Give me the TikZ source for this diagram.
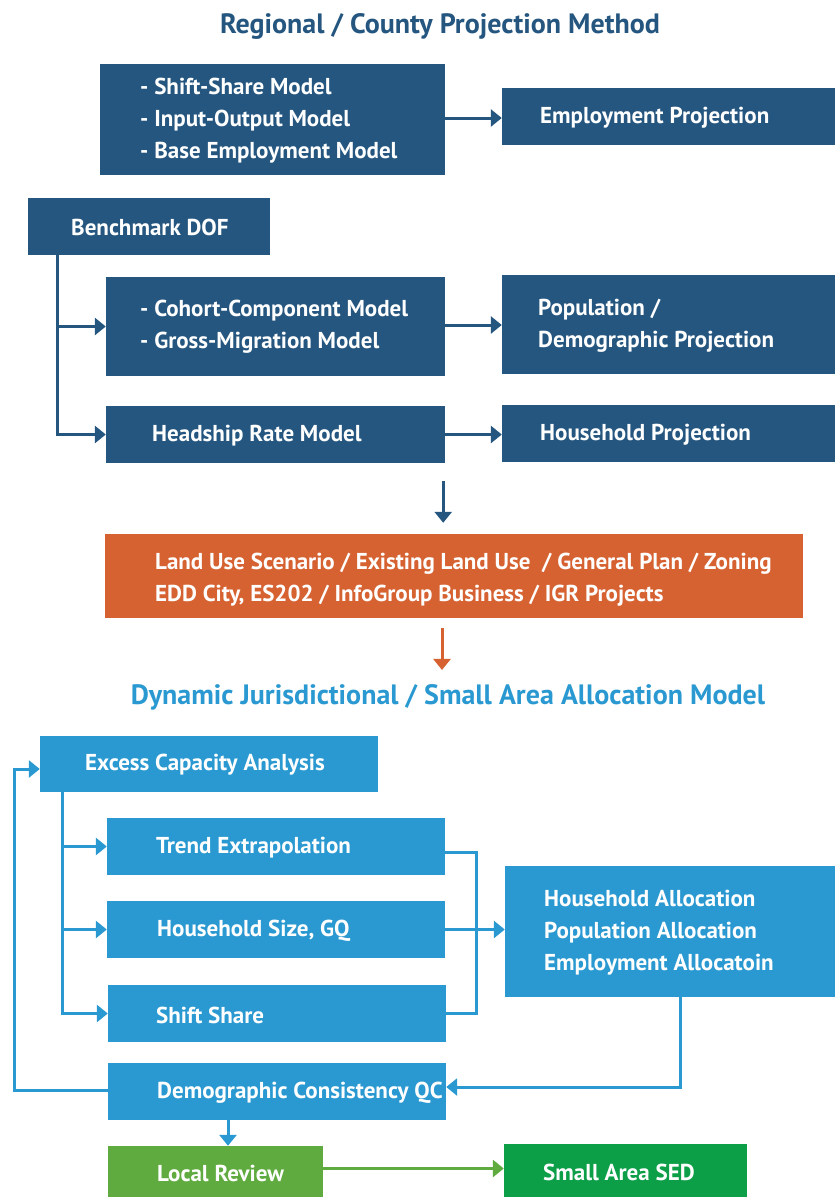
\documentclass[tikz,border=0pt]{standalone}
\usepackage{fontspec}
\setmainfont{PT Sans}
\usetikzlibrary{arrows.meta,fit,calc}
\definecolor{dblue}{HTML}{25567F}
\definecolor{lblue}{HTML}{2B99D1}
\definecolor{orng}{HTML}{D66232}
\definecolor{gone}{HTML}{5FAB3F}
\definecolor{gtwo}{HTML}{0C9F48}
\newcommand\panelbox[6]{\node[panel,fill=#6,fit={(#2,#3) (#4,#5)}] (#1) {};}
\begin{document}
\begin{tikzpicture}[x=1pt,y=-1pt,
  panel/.style={inner sep=0pt,draw=none},
  txt/.style={anchor=west,text=white,font=\fontsize{23}{32}\selectfont\bfseries,align=left,inner sep=0pt},
  ttl/.style={font=\fontsize{28}{32}\selectfont\bfseries,inner sep=0pt},
  ln/.style={line width=3pt},
  arr/.style={line width=3pt,-{Triangle[width=17pt,length=11pt]}},
]
\path[fill=white] (0,0) rectangle (835,1197);
\node[ttl,text=dblue] (t1) at (440,26) {Regional / County Projection Method};
% top section
\panelbox{moda}{100}{64}{445}{175}{dblue}
\node[txt] (moda-t) at (140,121) {- Shift-Share Model\\- Input-Output Model\\- Base Employment Model};
\panelbox{emp}{502}{88}{835}{145}{dblue}
\node[txt] (emp-t) at (540,117.5) {Employment Projection};
\panelbox{bench}{28}{198}{270}{255}{dblue}
\node[txt] (bench-t) at (71,227) {Benchmark DOF};
\panelbox{coh}{106}{277}{445}{376}{dblue}
\node[txt] (coh-t) at (140,327) {- Cohort-Component Model\\- Gross-Migration Model};
\panelbox{pop}{502}{275}{835}{374}{dblue}
\node[txt] (pop-t) at (538,326) {Population /\\Demographic Projection};
\panelbox{head}{106}{406}{445}{463}{dblue}
\node[txt] (head-t) at (152,436) {Headship Rate Model};
\panelbox{hhp}{502}{405}{835}{462}{dblue}
\node[txt] (hhp-t) at (540,435) {Household Projection};
\draw[arr,color=dblue] (moda.east |- 0,118) -- (emp.west |- 0,118);
\draw[arr,color=dblue] ([xshift=30pt]bench.south west) |- (coh.west);
\draw[arr,color=dblue] ([xshift=30pt]bench.south west) |- (head.west);
\draw[arr,color=dblue] ([yshift=1.5pt]coh.east) -- ([yshift=1.5pt]coh.east -| pop.west);
\draw[arr,color=dblue] (head.east) -- (head.east -| hhp.west);
% orange
\panelbox{land}{105}{534}{803}{618}{orng}
\node[txt] (land-t) at (155,580) {Land Use Scenario / Existing Land Use~~/ General Plan / Zoning\\EDD City, ES202 / InfoGroup Business / IGR Projects};
\draw[arr,color=dblue,shorten <=18pt,shorten >=11pt] ([xshift=-2pt]head.south east) -- ([xshift=-2pt]head.south east |- land.north);
\node[ttl,text=lblue] (t2) at (448,697) {Dynamic Jurisdictional / Small Area Allocation Model};
\draw[arr,color=orng,shorten <=10pt,shorten >=14pt] (land.south -| 442,0) -- (t2.north -| 442,0);
% lower section
\panelbox{exc}{40}{736}{378}{792}{lblue}
\node[txt] (exc-t) at (85,765) {Excess Capacity Analysis};
\panelbox{trend}{107}{818}{445}{875}{lblue}
\node[txt] (trend-t) at (156,848) {Trend Extrapolation};
\panelbox{hhs}{107}{901}{445}{958}{lblue}
\node[txt] (hhs-t) at (157,931) {Household Size, GQ};
\panelbox{shift}{108}{985}{446}{1042}{lblue}
\node[txt] (shift-t) at (156,1015) {Shift Share};
\panelbox{alloc}{505}{866}{835}{997}{lblue}
\node[txt] (alloc-t) at (544,932.5) {Household Allocation\\Population Allocation\\Employment Allocatoin};
\panelbox{qc}{108}{1063}{446}{1120}{lblue}
\node[txt] (qc-t) at (157,1093) {Demographic Consistency QC};
\panelbox{local}{108}{1146}{323}{1197}{gone}
\node[txt] (local-t) at (157,1173.5) {Local Review};
\panelbox{sed}{504}{1144}{747}{1197}{gtwo}
\node[txt] (sed-t) at (543,1172.5) {Small Area SED};
\coordinate (jn) at (476,930);
\coordinate (fb) at (14,900);
\draw[arr,color=lblue] ([xshift=23pt]exc.south west) |- (trend.west);
\draw[arr,color=lblue] ([xshift=23pt]exc.south west) |- (hhs.west);
\draw[arr,color=lblue] ([xshift=23pt]exc.south west) |- (shift.west);
\draw[ln,color=lblue] ([yshift=-5.5pt]trend.east) -| (jn) |- (shift.east);
\draw[arr,color=lblue] (hhs.east) -- (hhs.east -| alloc.west);
\draw[arr,color=lblue] ([xshift=10pt]alloc.south) |- ([yshift=4.5pt]qc.east);
\draw[arr,color=lblue] ([yshift=1.5pt]qc.west) -| (fb) |- ([yshift=-5pt]exc.west);
\draw[arr,color=lblue] (qc.south -| 228,0) -- (local.north -| 228,0);
\draw[arr,color=gone] ([yshift=3pt]local.east) -- ([yshift=3pt]local.east -| sed.west);
\end{tikzpicture}
\end{document}
